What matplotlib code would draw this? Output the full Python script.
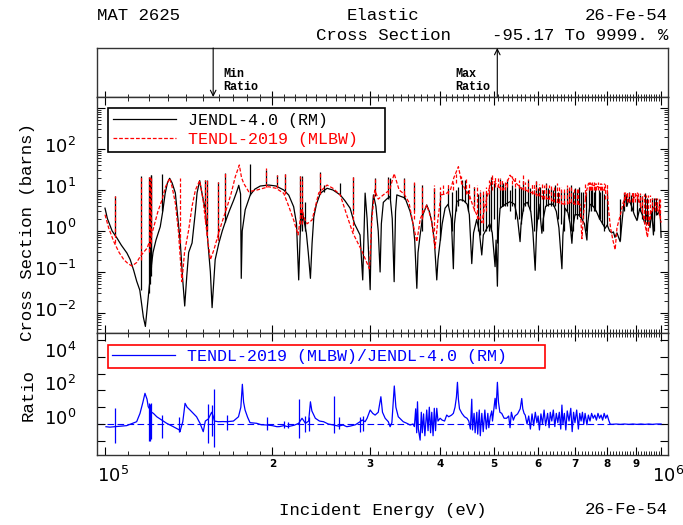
import numpy as np
import matplotlib
matplotlib.use("Agg")
import matplotlib.pyplot as plt
from matplotlib.lines import Line2D
from matplotlib.ticker import NullFormatter, NullLocator
from matplotlib.transforms import ScaledTranslation

plt.rcParams["mathtext.fontset"] = "custom"
plt.rcParams["mathtext.rm"] = "Liberation Sans"
MONO = "Liberation Mono"

# ---------- Data (energies in keV, cross sections in barns) ----------
jendl_e = [100.0, 101.0, 103.0, 105.1, 107.0, 109.5, 111.0, 112.6, 114.0, 115.5,
           117.2, 118.2, 119.0, 119.8, 121.1, 122.0, 123.5, 125.7, 127.0, 128.3,
           129.5, 130.7, 132.0, 133.8, 135.0, 136.6, 137.8, 139.1, 140.3, 141.4,
           143.4, 145.4, 146.4, 148.0, 149.5, 151.5, 153.0, 154.7, 155.8, 157.8,
           160.2, 162.5, 164.6, 167.5, 170.4, 172.5, 174.0, 175.3, 175.8, 176.5,
           178.7, 182.5, 186.0, 190.2, 197.0, 203.0, 209.6, 214.0, 218.4, 221.0,
           223.0, 224.5, 226.1, 228.0, 230.2, 232.0, 234.1, 235.7, 237.4, 240.0,
           243.9, 250.8, 257.0, 264.8, 270.0, 275.9, 281.0, 287.5, 290.7, 293.6,
           296.0, 299.8, 301.5, 303.9, 307.0, 310.0, 312.4, 314.0, 316.6, 321.0,
           325.6, 328.5, 331.1, 333.0, 334.8, 340.0, 346.4, 353.7, 358.0, 360.5,
           363.7, 365.5, 368.7, 373.0, 378.9, 383.0, 386.9, 391.0, 395.0, 397.0,
           400.5, 404.0, 408.8, 414.0, 419.5, 423.1, 425.0, 429.2, 435.0, 441.0,
           448.0, 452.0, 456.6, 460.0, 466.0, 471.0, 475.9, 479.0, 485.0, 492.0,
           497.0, 502.9, 505.0, 507.7, 510.0, 513.4, 525.0, 535.0, 545.0, 552.0,
           557.7, 560.0, 567.0, 575.0, 583.0, 588.0, 593.7, 597.0, 603.0, 607.0,
           610.4, 614.0, 620.0, 630.0, 640.0, 648.0, 655.0, 658.0, 663.2, 666.0,
           672.0, 680.0, 686.0, 691.2, 694.0, 700.0, 710.0, 720.0, 728.0, 735.5,
           738.0, 745.0, 755.0, 765.0, 775.0, 785.0, 793.2, 800.0, 808.0, 815.0,
           820.9, 826.0, 833.0, 844.0, 850.0, 856.0, 861.7, 868.0, 875.0, 885.0,
           895.0, 905.0, 915.0, 925.0, 935.0, 945.0, 955.0, 962.0, 968.8, 975.0,
           985.0, 992.0, 995.9, 1000.0]
jendl_xs = [3.6, 2.0, 1.0, 0.67, 0.45, 0.29, 0.2, 0.11, 0.06, 0.036,
            0.008, 0.0047, 0.012, 0.031, 0.134, 0.3, 0.6, 1.27, 3.0, 8.3,
            15, 19.3, 15, 8.5, 2.5, 0.51, 0.08, 0.0148, 0.08, 0.3,
            0.51, 3, 8.5, 16.9, 8, 3.3, 0.6, 0.1, 0.0135, 0.2,
            0.5, 1.0, 1.68, 3.2, 5.7, 9, 13, 8, 0.07, 1.0,
            3.3, 7.6, 10.5, 12.5, 13.2, 12.5, 10, 7.5, 3.9, 1.5,
            0.064, 1.0, 3.3, 1.8, 0.88, 0.3, 0.07, 0.5, 2.2, 4.5,
            8.3, 11, 10, 7.6, 5.5, 3.6, 1.5, 0.8, 0.064, 8.4,
            2.0, 0.037, 2.0, 7.6, 4.0, 1.0, 0.1, 1.5, 5, 6,
            7, 2, 0.058, 3, 7.6, 7.0, 6.4, 3, 1.5, 0.6,
            0.04, 0.3, 0.8, 2.5, 4.3, 3.0, 1.7, 0.6, 0.064, 0.2,
            0.55, 1.5, 3.6, 4.5, 2, 0.12, 1.5, 5.2, 5.8, 5.6,
            4.5, 2.5, 0.16, 0.9, 1.9, 1.0, 0.26, 0.8, 1.1, 1.5,
            0.9, 0.135, 0.6, 0.045, 1.0, 3.6, 4.5, 5.2, 4.5, 2.0,
            0.55, 1.5, 4.5, 5, 3, 1.0, 0.11, 1.0, 4.5, 2.0,
            0.88, 2.0, 4.0, 4.5, 4.5, 3.0, 1.2, 0.5, 0.12, 0.8,
            3.6, 2.8, 1.5, 0.5, 1.2, 2.5, 2.5, 2.0, 1.5, 0.6,
            1.5, 4.5, 4, 3, 2, 1.5, 1.16, 1.4, 1.0, 0.9,
            0.95, 0.7, 0.9, 0.55, 1.5, 4, 7.6, 4, 6, 4,
            2.5, 1.8, 3.5, 2.5, 1.5, 3, 1.2, 3, 0.8, 3.5,
            2.5, 3, 3, 0.7]

# narrow resonances of JENDL-4.0 (energy, lower, upper)
jendl_spk_e = [104.4, 115.9, 120.0, 120.3, 120.8, 121.1, 126.6, 151.4, 152.8, 159.4,
               164.6, 182.5, 194.6, 203.9, 210.9, 224.5, 226.1, 229.0, 243.9, 247.3,
               264.8, 279.1, 306.0, 323.2, 325.6, 344.6, 358.9, 371.0, 390.7, 400.5,
               414.0, 437.7, 444.4, 473.0, 478.0, 495.0, 500.0, 513.0, 520.0, 528.0,
               540.0, 555.0, 564.3, 576.0, 596.8, 606.0, 621.0, 633.0, 645.0, 660.0,
               676.0, 687.8, 700.0, 712.0, 725.0, 742.0, 752.0, 762.0, 772.0, 782.0,
               800.0, 856.0, 876.0, 892.0, 915.0, 936.0, 962.0, 980.0,
               420.0, 427.0, 432.0, 450.0, 460.0, 468.0, 485.0, 490.0, 506.0, 517.0,
               524.0, 534.0, 547.0, 560.0, 570.0, 582.0, 590.0, 600.0, 613.0, 627.0,
               640.0, 652.0, 668.0, 682.0, 694.0, 706.0, 718.0, 732.0, 747.0, 757.0,
               777.0, 790.0, 845.0, 865.0, 884.0, 905.0, 925.0, 945.0, 970.0, 990.0]
jendl_spk_lo = [0.8, 0.036, 0.03, 0.05, 0.08, 0.13, 3.0, 3.3, 1.0, 0.6,
                1.7, 7.6, 13, 12, 9, 1.0, 1.0, 1.0, 8, 9,
                7.6, 3, 7, 6, 6, 6, 3, 1, 2, 0.6,
                4, 5.5, 5, 0.8, 1.0, 1.0, 2, 3.6, 4, 4,
                4, 2, 3, 4, 1.0, 2, 4, 4, 4, 1.5,
                3, 1.0, 2.5, 2.5, 2, 3, 4, 3, 2, 1.5,
                1.4, 3, 5, 3, 3, 2, 2, 2.5,
                1, 3, 4, 3, 4, 1, 1, 1, 0.5, 4,
                4, 3, 2, 1.5, 4, 3, 1, 2, 1, 4,
                4, 2, 1, 2, 1, 2, 2, 1, 3, 3,
                2, 1, 0.6, 4, 3, 2, 2, 1.5, 1, 2.5]
jendl_spk_hi = [7.1, 22, 21, 17.6, 23, 23, 25, 17.6, 17.6, 16,
                26, 43, 31, 23, 25, 22, 22, 5.2, 28, 13,
                14.5, 21, 20, 21, 19.5, 19.5, 14.5, 13, 11, 9,
                11, 17.6, 17.6, 9, 8, 21, 15, 19, 15, 17,
                13, 13, 17, 18, 17, 12, 14.5, 11, 13, 10,
                11, 13, 11, 12, 9, 12, 11, 12, 10, 10,
                9, 8.4, 9, 8.3, 7.6, 8.3, 6.3, 6.3,
                9, 10, 12, 10, 12, 8, 9, 10, 12, 13,
                12, 10, 11, 12, 12, 11, 10, 11, 10, 11,
                10, 9, 9, 10, 9, 9, 9, 9, 10, 9,
                9, 8, 6, 8, 7.6, 7, 7, 6.3, 6.3, 6]

tendl_e = [100.0, 101.5, 103.7, 106.0, 108.1, 110.0, 111.8, 114.0, 115.7, 119.0,
           120.5, 122.4, 124.5, 126.6, 128.5, 130.7, 132.0, 133.8, 135.5, 137.5,
           139.0, 141.4, 143.4, 145.4, 148.0, 150.0, 151.5, 153.0, 154.7, 157.0,
           159.1, 162.0, 165.8, 168.5, 171.5, 174.4, 176.0, 177.6, 181.3, 187.7,
           197.0, 203.0, 209.6, 214.0, 218.4, 222.4, 224.5, 226.1, 228.5, 230.9,
           235.7, 239.0, 242.3, 250.8, 257.0, 264.8, 272.0, 279.0, 289.5, 298.9,
           302.0, 305.5, 310.0, 316.6, 325.0, 331.1, 338.0, 345.0, 352.0, 358.0,
           363.7, 369.0, 378.9, 386.0, 392.2, 397.0, 402.0, 410.0, 418.0, 424.0,
           432.0, 438.0, 445.0, 452.0, 459.0, 466.0, 471.0, 476.0, 482.0, 490.0,
           496.7, 503.0, 510.0, 520.0, 528.0, 535.0, 548.0, 560.0, 580.0, 600.0,
           620.0, 645.0, 670.0, 690.0, 700.0, 715.0, 720.5, 726.0, 735.0, 740.4,
           755.0, 770.0, 780.0, 787.0, 800.0, 805.0, 811.0, 819.0, 826.8, 833.0,
           845.0, 855.0, 866.0, 878.0, 890.0, 905.0, 915.0, 925.0, 935.0, 945.0,
           955.0, 970.0, 985.0, 995.0, 1000.0]
tendl_xs = [2.5, 1.2, 0.55, 0.3, 0.2, 0.16, 0.14, 0.17, 0.24, 0.38,
            0.6, 1.27, 3, 5.7, 12, 19.3, 12, 4.8, 1.0, 0.058,
            0.3, 1.06, 4, 10, 16.9, 6, 1.85, 0.6, 0.2, 0.35,
            0.66, 1.5, 3.9, 8, 21, 40.7, 20, 14.5, 9.1, 10,
            12, 11, 8.3, 4, 1.85, 0.8, 2, 3.3, 2, 1.5,
            1.85, 4, 8.5, 13.2, 11, 7.6, 2.5, 0.9, 0.33, 0.12,
            2, 10, 6, 7.6, 10, 25, 10, 8, 5, 1.5,
            0.55, 2, 4.3, 2, 0.38, 2, 7.6, 8, 10, 20,
            37, 15, 10, 7.6, 4, 2.5, 2, 1.6, 4, 10,
            19.3, 15, 12, 10, 15, 23, 15, 11, 9, 7.6,
            6.5, 5.2, 4.5, 5, 4.5, 4.5, 0.65, 3, 10, 14.5,
            13, 12, 11, 10, 10, 3, 1.2, 0.6, 0.35, 1.2,
            2.5, 5, 8, 5.2, 6, 7.6, 5, 3, 1.5, 0.7,
            2.5, 3.8, 4.2, 2.5, 1.6]

tendl_spk_e = [104.4, 115.9, 120.0, 120.5, 121.1, 136.2, 151.4, 152.8, 159.4, 164.6,
               194.6, 203.9, 210.9, 224.5, 226.1, 243.9, 279.1, 306.0, 323.2, 344.6,
               358.9, 371.0, 390.7, 414.0, 445.0, 452.0, 466.0, 478.0, 490.0, 503.0,
               513.0, 528.0, 545.0, 564.3, 576.0, 585.0, 596.8, 610.0, 621.0, 635.0,
               650.0, 662.0, 676.0, 690.0, 705.0, 740.4, 748.0, 757.0, 765.0, 775.0,
               784.0, 793.0, 800.0, 856.0, 870.0, 885.0, 897.0, 910.0, 925.0, 940.0,
               955.0, 975.0, 990.0,
               400.0, 405.0, 422.0, 428.0, 436.0, 460.0, 472.0, 484.0, 497.0, 508.0,
               518.0, 524.0, 540.0, 555.0, 570.0, 590.0, 603.0, 615.0, 628.0, 642.0,
               655.0, 668.0, 683.0, 697.0, 710.0, 730.0, 744.0, 752.0, 761.0, 770.0,
               779.0, 788.0, 862.0, 877.0, 892.0, 904.0, 918.0, 932.0, 948.0, 965.0,
               982.0, 996.0]
tendl_spk_lo = [0.5, 0.2, 0.3, 0.4, 0.5, 0.5, 1.8, 0.8, 0.6, 3,
                12, 11, 8, 1.5, 1.5, 8, 1, 8, 8, 8,
                2, 2, 1, 8, 8, 6, 2, 1.6, 8, 12,
                10, 12, 12, 10, 9, 8, 7, 6, 6, 5.5,
                5, 4.5, 4.5, 5, 4.5, 10, 10, 10, 10, 10,
                10, 6, 8, 4, 5, 5, 5, 5, 3, 1.0,
                2, 3, 2.5,
                7.6, 7.8, 10, 15, 14, 3, 2, 3, 10, 12,
                10, 10, 14, 11, 10, 8, 7, 6, 6, 5,
                5, 4.5, 5, 4.5, 4.5, 6, 10, 10, 10, 10,
                10, 10, 6, 5, 5, 6, 4, 2, 1, 3,
                3, 2]
tendl_spk_hi = [7.1, 22, 21, 21, 20, 19.5, 17.6, 17.6, 16, 26,
                34, 23, 25, 22, 20, 28, 21, 20, 21, 19.5,
                16, 13, 13, 14, 19, 14, 13, 10, 18, 21,
                20, 19, 22, 23, 19, 15, 17, 14, 15, 13,
                15, 12, 13, 12, 11, 15.9, 15, 15.9, 15, 15,
                14, 14.5, 14.5, 9, 9, 9.1, 9, 8.3, 8, 7.6,
                7.6, 6.3, 6.3,
                12, 13, 16, 25, 22, 12, 10, 12, 23, 20,
                18, 16, 22, 18, 16, 15, 14, 13, 13, 12,
                12, 11, 12, 11, 11, 14, 15.9, 16, 15, 16,
                14.5, 15, 9.1, 9, 9, 9, 8.3, 8, 7.6, 6.5,
                6.3, 6]

ratio_e = [100.4, 102.0, 104.0, 109.4, 114.0, 115.6, 117.0, 118.0, 119.0, 119.6,
           121.3, 122.2, 123.9, 126.5, 129.1, 132.7, 136.1, 136.4, 137.0, 138.0,
           139.3, 140.5, 142.2, 146.1, 148.2, 150.2, 151.5, 153.4, 155.5, 156.5,
           157.3, 159.8, 163.0, 165.5, 170.2, 173.8, 175.5, 176.6, 177.5, 178.6,
           180.5, 182.3, 187.4, 191.0, 195.5, 200.0, 203.8, 206.0, 209.6, 213.0,
           215.5, 219.0, 223.0, 226.1, 229.3, 232.4, 234.1, 235.5, 238.9, 243.0,
           247.2, 252.0, 257.6, 263.0, 268.0, 272.2, 276.0, 282.0, 287.5, 290.0,
           293.6, 296.0, 299.8, 303.0, 306.0, 310.0, 313.4, 315.5, 319.0, 323.2,
           325.6, 328.0, 331.3, 333.5, 336.8, 343.8, 349.0, 353.7, 358.0, 360.0,
           362.0, 363.5, 364.7, 366.0, 368.7, 370.5, 372.0, 374.0, 376.0, 378.9,
           381.0, 383.0, 385.0, 386.9, 389.0, 391.0, 393.0, 395.0, 397.0, 400.5,
           404.0, 408.0, 411.6, 415.0, 420.0, 423.1, 426.0, 428.5, 430.3, 432.0,
           434.0, 438.3, 443.0, 447.6, 451.0, 454.0, 456.6, 458.0, 461.0, 463.0,
           466.2, 468.0, 471.0, 473.0, 476.0, 478.8, 482.0, 485.0, 488.0, 490.0,
           492.9, 496.0, 497.5, 502.9, 505.0, 507.7, 510.0, 513.0, 516.9, 522.0,
           527.5, 532.0, 535.0, 538.0, 542.4, 546.0, 552.0, 558.0, 561.6, 564.0,
           567.0, 569.7, 574.0, 578.0, 582.0, 586.0, 590.0, 594.0, 598.0, 601.0,
           604.2, 608.0, 612.0, 616.0, 620.0, 625.0, 629.0, 632.0, 636.0, 640.0,
           644.0, 648.0, 652.0, 656.0, 660.0, 663.2, 666.0, 670.0, 674.0, 678.0,
           683.0, 688.0, 692.0, 696.0, 700.0, 705.0, 710.0, 714.0, 718.0, 722.0,
           726.0, 730.0, 735.5, 740.0, 745.0, 750.0, 755.0, 760.0, 765.0, 770.0,
           775.0, 780.0, 785.0, 790.0, 795.0, 800.0, 805.0, 809.6, 815.0, 830.0,
           845.0, 860.0, 875.0, 890.0, 905.0, 920.0, 935.0, 950.0, 965.0, 980.0,
           1000.0]
ratio_v = [0.69, 0.65, 0.69, 0.8, 1.37, 4.3, 20, 67, 30, 10.7,
           5, 4.3, 2.7, 1.7, 1.1, 0.69, 0.44, 0.35, 0.6, 1.37,
           17, 10, 6.8, 2.7, 1.1, 0.35, 1.5, 2, 5, 3,
           1.5, 1.37, 1.4, 1.37, 1.5, 2.7, 10, 231, 20, 6.8,
           2.5, 1.2, 1.1, 0.9, 0.87, 0.8, 0.69, 0.7, 0.8, 0.7,
           0.75, 0.85, 1.1, 2.2, 1.1, 1.5, 21, 6, 2.2, 1.5,
           1.37, 1.0, 0.87, 0.75, 0.87, 0.69, 0.75, 0.9, 1.37, 1.73,
           1.37, 2.2, 6.8, 4.3, 3.4, 5, 42, 5, 2.2, 1.37,
           0.69, 1.2, 183, 10, 2.7, 1.37, 1.1, 0.87, 1.0, 0.7,
           8, 0.3, 21, 0.5, 0.11, 5, 0.3, 4, 0.2, 6.8,
           0.4, 10, 0.3, 5, 0.2, 8.6, 0.4, 8.6, 1.5, 2.2,
           1.7, 1.5, 3.4, 2.7, 3.4, 4.3, 10, 40, 303, 30,
           8, 4.3, 2.7, 2.2, 1.5, 0.5, 30, 0.44, 4.3, 0.3,
           5, 0.25, 6.8, 0.2, 4.3, 0.35, 6.8, 0.5, 4.3, 0.6,
           2.7, 6, 1.5, 34, 8, 303, 20, 5, 4.3, 2.2,
           2.2, 3, 0.6, 5, 1.7, 3, 4, 8, 33, 8,
           4.3, 3.4, 1.0, 3, 0.5, 4, 0.8, 5, 1.2, 3,
           0.44, 4, 1.0, 6.8, 0.8, 4.3, 0.6, 5, 1.5, 6.8,
           0.7, 4.3, 1.2, 5, 0.5, 13.4, 1, 4.3, 0.44, 6,
           1.5, 8.6, 0.35, 5, 1.2, 6.8, 0.5, 4.3, 1.5, 5,
           1.0, 4.3, 0.9, 3.4, 1.5, 4.3, 2.2, 3.4, 1.7, 4.3,
           2.2, 3.4, 1.7, 4.3, 2.2, 3.4, 1.7, 1.0, 0.95, 1.0,
           0.95, 1.0, 0.95, 1.0, 0.95, 1.0, 0.95, 1.0, 0.95, 1.0,
           1.0]

ratio_spk_e = [104.2, 120.2, 120.6, 121.0, 126.5, 136.1, 153.4, 155.5, 157.3, 165.5,
               195.5, 209.6, 213.0, 223.0, 229.3, 232.4, 257.6, 263.0, 287.0, 291.5]
ratio_spk_lo = [0.077, 0.097, 0.1, 0.12, 0.14, 0.35, 0.077, 0.2, 0.045, 0.44,
                0.44, 0.6, 0.6, 0.14, 0.35, 0.4, 0.3, 0.5, 0.35, 0.4]
ratio_spk_hi = [9, 18.5, 15, 18.5, 3.4, 2.7, 15.4, 13.4, 116, 3.4,
                2.7, 1.5, 1.4, 30, 3, 2.7, 46, 2.7, 2.7, 3]

min_ratio_e = 156.5   # keV
max_ratio_e = 507.5   # keV

x_major = [1e5, 2e5, 3e5, 4e5, 5e5, 6e5, 7e5, 8e5, 9e5, 1e6]
x_major_labels = ["", "2", "3", "4", "5", "6", "7", "8", "9", ""]
xs_decades = [-2, -1, 0, 1, 2, 3]
ratio_decades = [-1, 0, 1, 2, 3, 4, 5]

# ---------- Figure ----------
W, H = 683, 525
fig = plt.figure(figsize=(W / 100, H / 100), dpi=100)
L, R = 97, 668
ax_box = fig.add_axes([L / W, 1 - 97 / H, (R - L) / W, 49 / H])
ax = fig.add_axes([L / W, 1 - 333 / H, (R - L) / W, 236 / H])
axr = fig.add_axes([L / W, 1 - 455 / H, (R - L) / W, 122 / H])

xlim = (96.74e3, 1.029e6)
minor_x = [k * 1e4 for k in range(11, 100) if k % 10 != 0]

for a in (ax_box, ax, axr):
    a.set_xscale("log")
    a.set_xlim(*xlim)
    a.set_xticks(x_major, labels=[""] * len(x_major))
    a.set_xticks(minor_x, minor=True)
    a.xaxis.set_minor_formatter(NullFormatter())
    for s in a.spines.values():
        s.set_linewidth(1.0)
        s.set_color("#333333")

# header box with min / max ratio arrows
ax_box.set_yticks([])
ax_box.set_ylim(0, 1)
ax_box.tick_params(axis="x", which="both", direction="in", top=False, bottom=True)
ax_box.tick_params(axis="x", which="major", length=4, width=0.8)
ax_box.tick_params(axis="x", which="minor", length=2.5, width=0.6)
ax_box.annotate("", xy=(min_ratio_e * 1e3, 0.0), xytext=(min_ratio_e * 1e3, 1.0),
                arrowprops=dict(arrowstyle="->", color="black", lw=0.8,
                                shrinkA=0, shrinkB=0, mutation_scale=10))
ax_box.annotate("", xy=(max_ratio_e * 1e3, 1.0), xytext=(max_ratio_e * 1e3, 0.0),
                arrowprops=dict(arrowstyle="->", color="black", lw=0.8,
                                shrinkA=0, shrinkB=0, mutation_scale=10))
ax_box.annotate("Min\nRatio", xy=(min_ratio_e * 1e3, 0.34), xytext=(7, 0),
                textcoords="offset points", ha="left", va="center",
                family=MONO, weight="bold", fontsize=8.5, linespacing=1.15)
ax_box.annotate("Max\nRatio", xy=(max_ratio_e * 1e3, 0.34), xytext=(-5, 0),
                textcoords="offset points", ha="right", va="center", ma="left",
                family=MONO, weight="bold", fontsize=8.5, linespacing=1.15)

# main cross-section panel
red_dash = (0, (3, 1.5))
ax.plot(np.array(jendl_e) * 1e3, jendl_xs, color="black", lw=0.9, zorder=2)
ax.vlines(np.array(jendl_spk_e) * 1e3, jendl_spk_lo, jendl_spk_hi,
          colors="black", lw=0.9, zorder=2)
ax.plot(np.array(tendl_e) * 1e3, tendl_xs, color="red", lw=0.9, ls=red_dash, zorder=3)
ax.vlines(np.array(tendl_spk_e) * 1e3, tendl_spk_lo, tendl_spk_hi,
          colors="red", lw=0.9, linestyles=red_dash, zorder=3)
ax.set_yscale("log")
ax.set_ylim(0.00325, 1854)
ax.set_yticks([10.0 ** d for d in xs_decades],
              labels=[r"$\mathregular{10^{%d}}$" % d if d < 3 else "" for d in xs_decades])
ax.set_yticks([m * 10.0 ** d for d in range(-3, 4) for m in range(2, 10)
               if 0.00325 < m * 10.0 ** d < 1854], minor=True)
ax.yaxis.set_minor_formatter(NullFormatter())

h_jendl = Line2D([], [], color="black", lw=0.9)
h_tendl = Line2D([], [], color="red", lw=0.9, ls=red_dash)
leg = ax.legend([h_jendl, h_tendl], ["JENDL-4.0 (RM)", "TENDL-2019 (MLBW)"],
                loc="upper left", bbox_to_anchor=(0.019, 0.75, 0.485, 0.203),
                mode="expand", prop={"family": MONO, "size": 12},
                handlelength=3.8, handletextpad=0.7, borderpad=0.3,
                labelspacing=0.25, fancybox=False, framealpha=1,
                edgecolor="black", borderaxespad=0)
leg.get_frame().set_linewidth(1.2)
leg.get_texts()[1].set_color("red")

# ratio panel
axr.axhline(1.0, color="blue", lw=0.8, ls=(0, (6, 3)), zorder=1)
axr.plot(np.array(ratio_e) * 1e3, ratio_v, color="blue", lw=0.9, zorder=2)
axr.vlines(np.array(ratio_spk_e) * 1e3, ratio_spk_lo, ratio_spk_hi,
           colors="blue", lw=0.9, zorder=2)
axr.set_yscale("log")
axr.set_ylim(10 ** -1.845, 10 ** 5.417)
axr.set_yticks([10.0 ** d for d in ratio_decades],
               labels=[r"$\mathregular{10^{%d}}$" % d if d in (0, 2, 4) else ""
                       for d in ratio_decades])
axr.yaxis.set_minor_locator(NullLocator())
axr.set_xticks(x_major, labels=x_major_labels)
axr.xaxis.set_minor_formatter(NullFormatter())
for t in axr.get_xticklabels():
    t.set_fontfamily("DejaVu Sans")
    t.set_fontweight("bold")
    t.set_fontsize(7.5)

h_ratio = Line2D([], [], color="blue", lw=0.9)
rleg = axr.legend([h_ratio], ["TENDL-2019 (MLBW)/JENDL-4.0 (RM)"],
                  loc="upper left", bbox_to_anchor=(0.019, 0.656, 0.765, 0.246),
                  mode="expand", prop={"family": MONO, "size": 12},
                  handlelength=3.8, handletextpad=0.7, borderpad=0.25,
                  fancybox=False, framealpha=1, edgecolor="red", borderaxespad=0)
rleg.get_frame().set_linewidth(1.2)
rleg.get_texts()[0].set_color("blue")

for a, up in ((ax, 4), (axr, 7)):
    a.tick_params(which="both", direction="in", top=True, right=True)
    a.tick_params(which="major", length=6, width=0.8)
    a.tick_params(which="minor", length=3, width=0.6)
    a.tick_params(axis="y", which="major", pad=15, labelsize=13)
    a.tick_params(axis="x", which="major", pad=3)
    shift = ScaledTranslation(0, up / 100, fig.dpi_scale_trans)
    for t in a.get_yticklabels():
        t.set_transform(t.get_transform() + shift)

# texts
fig.text(L / W, 1 - 16 / H, "MAT 2625", family=MONO, fontsize=12.5, ha="left", va="center")
fig.text(383 / W, 1 - 16 / H, "Elastic", family=MONO, fontsize=12.5, ha="center", va="center")
fig.text(R / W, 1 - 16 / H, "26-Fe-54", family=MONO, fontsize=12.5, ha="right", va="center")
fig.text(383 / W, 1 - 36 / H, "Cross Section", family=MONO, fontsize=12.5, ha="center", va="center")
fig.text(R / W, 1 - 36 / H, "-95.17 To 9999. %", family=MONO, fontsize=12.5, ha="right", va="center")

fig.text(28 / W, 1 - 232 / H, "Cross Section (barns)", family=MONO, fontsize=12.5,
         rotation=90, ha="center", va="center")
fig.text(28 / W, 1 - 395 / H, "Ratio", family=MONO, fontsize=12.5,
         rotation=90, ha="center", va="center")
fig.text(383 / W, 1 - 510 / H, "Incident Energy (eV)", family=MONO, fontsize=12.5,
         ha="center", va="center")
fig.text(R / W, 1 - 510 / H, "26-Fe-54", family=MONO, fontsize=12.5, ha="right", va="center")

fig.text(97 / W, 1 - 476 / H, r"$\mathregular{10^{5}}$", fontsize=13, ha="left", va="center")
fig.text(652 / W, 1 - 476 / H, r"$\mathregular{10^{6}}$", fontsize=13, ha="left", va="center")

fig.savefig("out.png", dpi=100)
